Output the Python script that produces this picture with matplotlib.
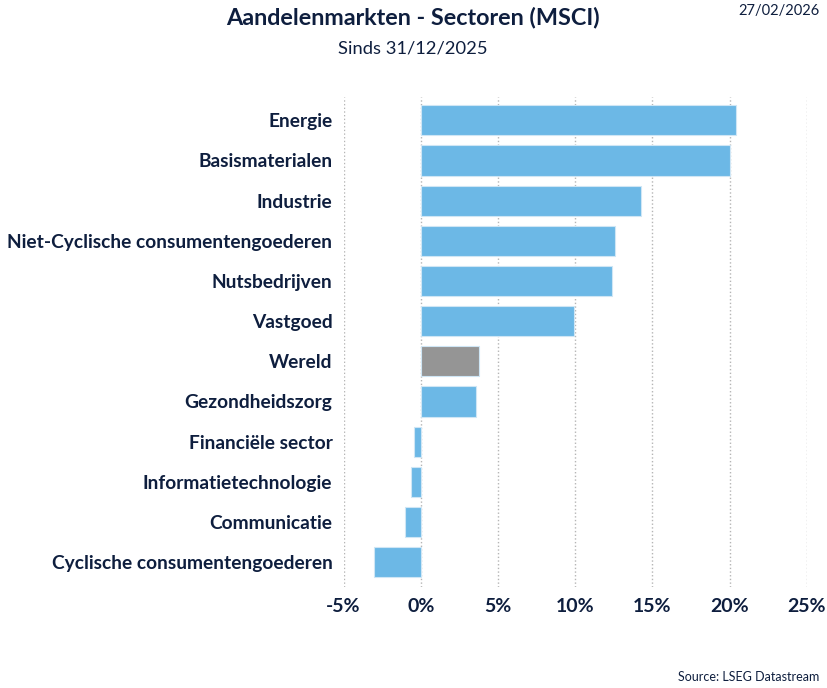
import matplotlib.pyplot as plt
from matplotlib.ticker import FuncFormatter

plt.rcParams['font.family'] = ['Lato', 'DejaVu Sans']

sectoren = ['Energie', 'Basismaterialen', 'Industrie',
            'Niet-Cyclische consumentengoederen', 'Nutsbedrijven', 'Vastgoed',
            'Wereld', 'Gezondheidszorg', 'Financiële sector',
            'Informatietechnologie', 'Communicatie',
            'Cyclische consumentengoederen']
rendement = [20.4, 20.0, 14.25, 12.6, 12.4, 9.9, 3.75, 3.58, -0.44, -0.66, -1.0, -3.06]
ticks = [-5, 0, 5, 10, 15, 20, 25]

navy = '#0e1e3e'
kleuren = ['#959595' if s == 'Wereld' else '#6cb8e6' for s in sectoren]

fig = plt.figure(figsize=(8.28, 6.88), dpi=100)
ax = fig.add_axes([0.4149, 0.1468, 0.5597, 0.7122])

y = list(range(len(sectoren)))
ax.barh(y, rendement, height=0.75, color=kleuren, edgecolor='#cfe6f5', linewidth=0.8, zorder=3)
ax.set_yticks(y)
ax.set_yticklabels(sectoren)
ax.set_ylim(11.62, -0.58)
ax.set_xlim(-5, 25)
ax.set_xticks(ticks)
ax.xaxis.set_major_formatter(FuncFormatter(lambda v, p: f'{v:.0f}%'))
ax.grid(axis='x', linestyle=':', color='#b5b5b5', linewidth=1, zorder=0)
for s in ax.spines.values():
    s.set_visible(False)
ax.tick_params(length=0)
ax.tick_params(axis='y', pad=8)
ax.tick_params(axis='x', pad=8)
for lbl in ax.get_yticklabels():
    lbl.set_fontsize(13.8)
    lbl.set_fontweight('bold')
    lbl.set_color(navy)
for lbl in ax.get_xticklabels():
    lbl.set_fontsize(14)
    lbl.set_fontweight('bold')
    lbl.set_color(navy)

fig.text(0.499, 0.975, 'Aandelenmarkten - Sectoren (MSCI)', ha='center', va='center',
         fontsize=16.8, fontweight='bold', color=navy)
fig.text(0.499, 0.929, 'Sinds 31/12/2025', ha='center', va='center', fontsize=13.2, color=navy)
fig.text(0.99, 0.984, '27/02/2026', ha='right', va='center', fontsize=10.5, color=navy)
fig.text(0.99, 0.007, 'Source: LSEG Datastream', ha='right', va='bottom', fontsize=9, color=navy)

fig.savefig('out.png', dpi=100, facecolor='white')
